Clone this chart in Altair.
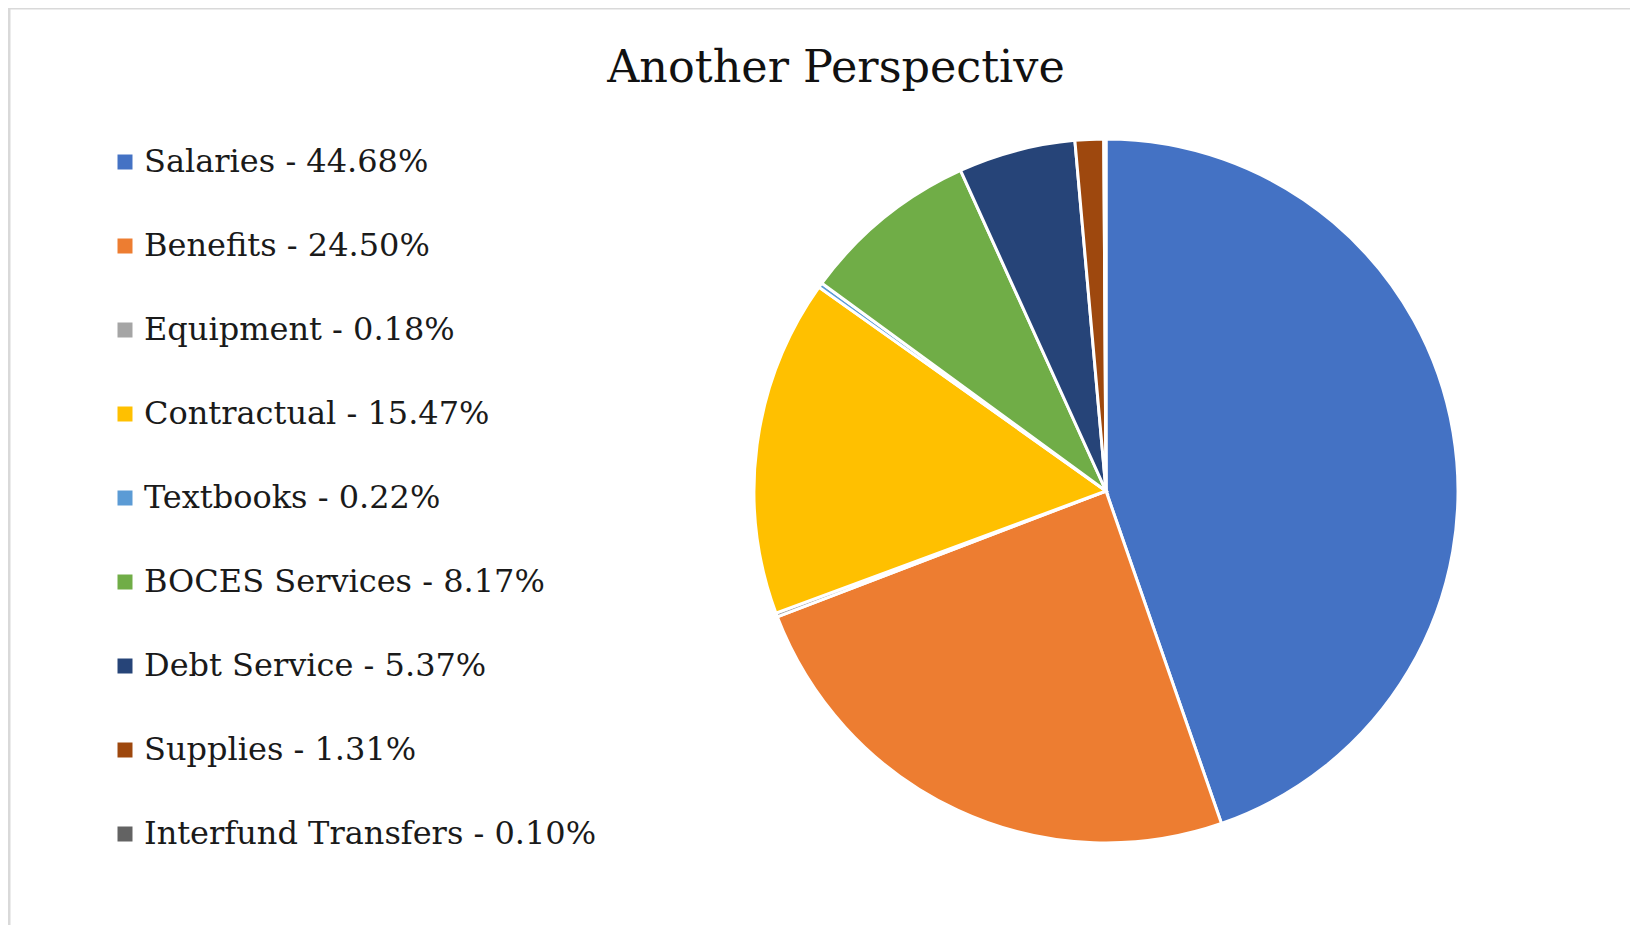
import altair as alt
import pandas as pd

categories = ["Salaries", "Benefits", "Equipment", "Contractual", "Textbooks",
              "BOCES Services", "Debt Service", "Supplies", "Interfund Transfers"]
percents = [44.68, 24.50, 0.18, 15.47, 0.22, 8.17, 5.37, 1.31, 0.10]
colors = ["#4472C4", "#ED7D31", "#A5A5A5", "#FFC000", "#5B9BD5",
          "#70AD47", "#264478", "#9E480E", "#636363"]
title_text = "Another Perspective"

labels = [f"{c} - {p:.2f}%" for c, p in zip(categories, percents)]
df = pd.DataFrame({"label": labels, "value": percents, "idx": list(range(len(labels)))})

FONT = "DejaVu Serif"
W, H = 1622, 917

pie = alt.Chart(df).mark_arc(radius=352, stroke="white", strokeWidth=3).encode(
    theta=alt.Theta("value:Q", stack=True),
    order=alt.Order("idx:Q"),
    color=alt.Color(
        "label:N",
        sort=labels,
        scale=alt.Scale(domain=labels, range=colors),
        legend=alt.Legend(
            title=None,
            orient="none",
            legendX=101,
            legendY=138,
            symbolType="square",
            symbolSize=225,
            symbolStrokeWidth=0,
            labelFont=FONT,
            labelFontSize=32,
            labelColor="#1a1a1a",
            labelOffset=3,
            rowPadding=52,
            labelLimit=800,
        ),
    ),
    x=alt.value(1098),
    y=alt.value(483),
)

title = alt.Chart(alt.Data(values=[{"t": title_text}])).mark_text(
    font=FONT, fontSize=44.5, color="#111111", align="center", baseline="alphabetic"
).encode(text="t:N", x=alt.value(828), y=alt.value(74))

border_top = alt.Chart(alt.Data(values=[{}])).mark_rule(color="#d9d9d9", strokeWidth=3).encode(
    x=alt.value(0), x2=alt.value(W), y=alt.value(0)
)
border_left = alt.Chart(alt.Data(values=[{}])).mark_rule(color="#d9d9d9", strokeWidth=3).encode(
    x=alt.value(1), y=alt.value(0), y2=alt.value(H)
)

chart = alt.layer(border_top, border_left, pie, title).properties(
    width=W, height=H, autosize=alt.AutoSizeParams(type="none"), padding=0
).configure_view(stroke=None).configure(background="white")

chart.save("out.html", embed_options={"renderer": "svg", "actions": False})
